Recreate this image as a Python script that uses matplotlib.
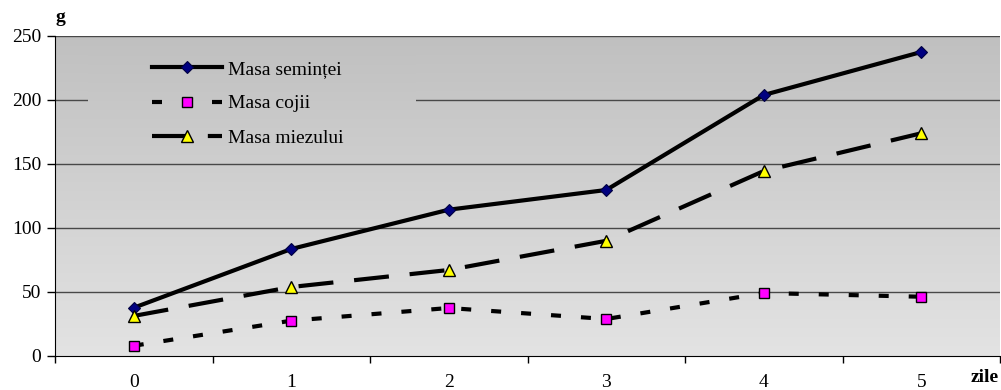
import numpy as np
import matplotlib
matplotlib.use("Agg")
import matplotlib.pyplot as plt
from matplotlib.colors import LinearSegmentedColormap

days = [0, 1, 2, 3, 4, 5]
masa_semintei = [37.7, 83.6, 114.3, 129.7, 203.9, 237.5]
masa_cojii = [8.0, 27.6, 37.5, 28.9, 49.2, 46.3]
masa_miezului = [31.3, 53.9, 67.2, 90.0, 144.5, 174.0]
series_labels = ["Masa semințe" + "i", "Masa cojii", "Masa miezului"]
y_ticks = [0, 50, 100, 150, 200, 250]

plt.rcParams['font.family'] = ['Liberation Serif', 'DejaVu Serif']

fig = plt.figure(figsize=(10.01, 3.90), dpi=100)
ax = fig.add_axes([55/1001, 34/390, 945/1001, 320/390])

x = np.arange(len(days))

# gradient background
cmap = LinearSegmentedColormap.from_list("bg", ["#e3e3e3", "#c0c0c0"])
grad = np.linspace(0, 1, 256).reshape(-1, 1)
ax.imshow(grad, extent=[-0.5, len(days) - 0.5, 0, 250], origin="lower",
          aspect="auto", cmap=cmap, vmin=0, vmax=1, zorder=0)

for yv in y_ticks[1:]:
    ax.axhline(yv, color="#484848", lw=1.0, zorder=0.5)

# legend area patch (covers gridline) with matching gradient
lx0 = -0.5 + (88 - 55) / 157.5
lx1 = -0.5 + (416 - 55) / 157.5
ly0, ly1 = 155.0, 240.0
sub = np.linspace(ly0 / 250, ly1 / 250, 64).reshape(-1, 1)
ax.imshow(sub, extent=[lx0, lx1, ly0, ly1], origin="lower", aspect="auto",
          cmap=cmap, vmin=0, vmax=1, zorder=0.8)
ax.set_xlim(-0.5, len(days) - 0.5)
ax.set_ylim(0, 250)

lw = 3.0
ax.plot(x, masa_semintei, color="black", lw=lw, marker="D", ms=6,
        mfc="#000080", mec="#000040", mew=0.8, label=series_labels[0], zorder=3)
ax.plot(x, masa_cojii, color="black", lw=lw, dashes=(2.4, 4.8), marker="s", ms=6.5,
        mfc="#ff00ff", mec="black", mew=1.0, label=series_labels[1], zorder=3)
ax.plot(x, masa_miezului, color="black", lw=lw, dashes=(8.4, 5.0), marker="^", ms=8,
        mfc="#ffff00", mec="black", mew=1.0, label=series_labels[2], zorder=3)

leg = ax.legend(loc="upper left", bbox_to_anchor=(97/945, 1 - 24/320),
                frameon=False, fontsize=14, handlelength=3.6, handletextpad=0.3,
                labelspacing=0.88, borderaxespad=0, borderpad=0)

ax.set_yticks(y_ticks)
ax.set_yticklabels([str(v) for v in y_ticks], fontsize=14)
ax.set_xticks(x)
ax.set_xticklabels([str(d) for d in days], fontsize=14)
ax.set_xticks(np.arange(-0.5, len(days)), minor=True)
ax.tick_params(axis="x", which="major", length=0, pad=13)
ax.tick_params(axis="x", which="minor", length=5, direction="out", width=1)
ax.tick_params(axis="y", length=6, direction="out", width=1, pad=4)

for s in ["top", "right"]:
    ax.spines[s].set_visible(False)
ax.spines["left"].set_color("black")
ax.spines["bottom"].set_color("black")
ax.spines["left"].set_zorder(4)
ax.spines["bottom"].set_zorder(4)

fig.text(55/1001, 1 - 17/390, "g", fontsize=14, fontweight="bold", ha="left", va="center")
fig.text(999/1001, 1 - 378/390, "zile", fontsize=14, fontweight="bold", ha="right", va="center")

fig.savefig("out.png", dpi=100)
